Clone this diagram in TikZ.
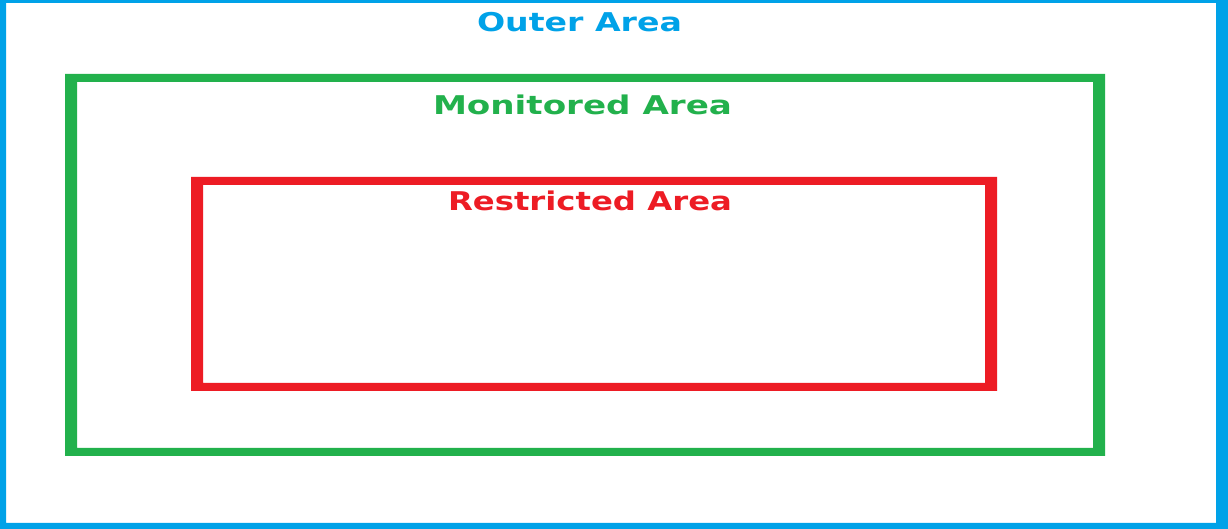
\documentclass[tikz,border=0pt]{standalone}
\usepackage{fontspec}
\setmainfont{DejaVu Sans}
\definecolor{paintblue}{HTML}{00A2E8}
\definecolor{paintgreen}{HTML}{22B14C}
\definecolor{paintred}{HTML}{ED1C24}
\begin{document}
\begin{tikzpicture}[x=0.5pt,y=-0.5pt,
  lbl/.style={inner sep=0pt,outer sep=0pt,anchor=base west,font=\bfseries}]
\useasboundingbox (0,0) rectangle (1228,529);
\fill[white] (0,0) rectangle (1228,529);
% frames
\fill[paintblue,even odd rule] (0,0) rectangle (1228,529) (6,3) rectangle (1216,523);
\fill[paintgreen,even odd rule] (65,74) rectangle (1105,456) (77,82) rectangle (1093,448);
\fill[paintred,even odd rule] (191,177) rectangle (997,391) (203,185) rectangle (985,383);
% labels
\node[lbl,text=paintblue] (outer) at (477,32) {\resizebox{102.5pt}{9.6pt}{Outer Area}};
\node[lbl,text=paintgreen] (mon) at (433,115) {\resizebox{149.5pt}{9.8pt}{Monitored Area}};
\node[lbl,text=paintred] (res) at (448,211) {\resizebox{142pt}{9.8pt}{Restricted Area}};
\end{tikzpicture}
\end{document}
